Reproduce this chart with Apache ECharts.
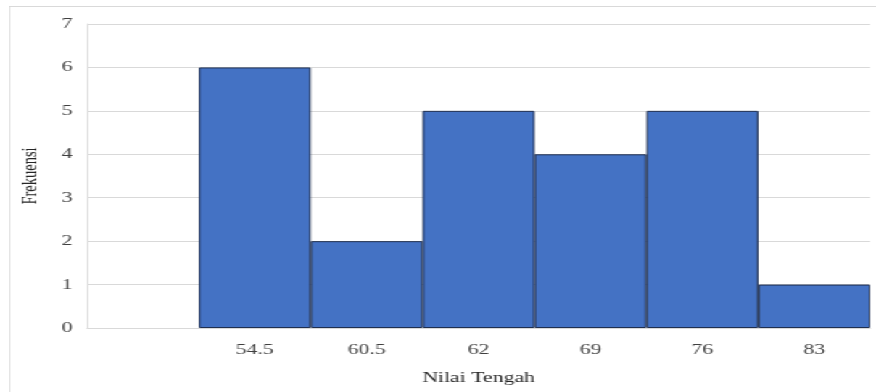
<!DOCTYPE html>
<html><head><meta charset="utf-8">
<script src="https://cdn.jsdelivr.net/npm/echarts@6/dist/echarts.min.js"></script>
<style>html,body{margin:0;padding:0;background:#fff;overflow:hidden}
#wrap{width:604px;height:392px;position:relative;transform:scaleX(1.4503);transform-origin:0 0}
#c{width:604px;height:392px;position:absolute;left:0;top:0}
#frame{position:absolute;left:6px;top:6px;width:700px;height:400px;border-left:1px solid #d9d9d9;border-top:1px solid #d9d9d9;pointer-events:none}</style>
</head><body><div id="wrap"><div id="c"></div><div id="frame"></div></div>
<script>
const categories = ['', '54.5', '60.5', '62', '69', '76', '83'];
const frekuensi = ['-', 6, 2, 5, 4, 5, 1];
const yTicks = [0, 1, 2, 3, 4, 5, 6, 7];

const chart = echarts.init(document.getElementById('c'));
chart.setOption({
  animation: false,
  grid: {left: 60, right: 4, top: 24, bottom: 64},
  xAxis: {
    type: 'category', data: categories,
    name: 'Nilai Tengah', nameLocation: 'middle', nameGap: 43,
    nameTextStyle: {fontFamily: 'Liberation Serif', fontSize: 15, color: '#262626'},
    axisLine: {lineStyle: {color: '#d9d9d9'}},
    axisTick: {show: false},
    axisLabel: {fontFamily: 'Liberation Serif', fontSize: 15, color: '#404040', margin: 15}
  },
  yAxis: {
    type: 'value', min: yTicks[0], max: yTicks[yTicks.length - 1], interval: 1,
    name: 'Frekuensi', nameLocation: 'middle', nameGap: 31,
    nameTextStyle: {fontFamily: 'Liberation Serif', fontSize: 14.5, color: '#262626'},
    axisLine: {show: true, lineStyle: {color: '#d9d9d9'}},
    axisTick: {show: false},
    splitLine: {lineStyle: {color: '#d9d9d9'}},
    axisLabel: {fontFamily: 'Liberation Serif', fontSize: 15, color: '#404040', margin: 10}
  },
  series: [{
    type: 'bar', data: frekuensi, barWidth: '100%', barCategoryGap: 0,
    itemStyle: {color: '#4472C4', borderColor: '#1f2f50', borderWidth: 1}
  }]
});
</script></body></html>
